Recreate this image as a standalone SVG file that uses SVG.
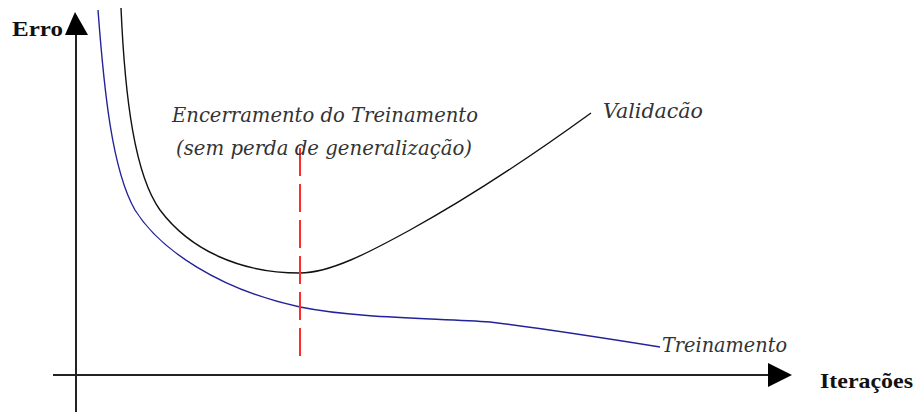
<svg xmlns="http://www.w3.org/2000/svg" width="920" height="412" viewBox="0 0 920 412">
<style>
.axis{stroke:#222;stroke-width:2;fill:none}
.head{fill:#000}
.curve{fill:none;stroke-width:1.4}
.lbl{font-family:"DejaVu Serif","Liberation Serif",serif;font-style:italic;font-size:20px;fill:#333}
.ax{font-family:"Liberation Serif","Times New Roman",serif;font-weight:bold;font-size:22px;fill:#111}
</style>
<rect width="920" height="412" fill="#fff"/>
<g id="axes">
<line class="axis" x1="76" y1="34" x2="76" y2="412"/>
<polygon class="head" points="75,12 65,35 88,35"/>
<line class="axis" x1="53" y1="375" x2="770" y2="375"/>
<polygon class="head" points="792,375 768,363 768,387"/>
<text id="y-label" class="ax" x="12" y="36" textLength="51" lengthAdjust="spacingAndGlyphs">Erro</text>
<text id="x-label" class="ax" x="820" y="388" textLength="93" lengthAdjust="spacingAndGlyphs">Iterações</text>
</g>
<g id="curves">
<path id="validacao" class="curve" stroke="#111" d="M121,8 C125,100 135,175 160,210 C190,250 240,273 300,273 C330,273 370,252 410,230 C470,197 540,150 591,113"/>
<path id="treinamento" class="curve" stroke="#22229a" d="M98,10 C104,90 112,170 135,210 C160,250 220,290 300,307 C360,319 440,318 490,322 C540,328 610,339 660,347"/>
<line id="stop" x1="300" y1="148" x2="300" y2="356" stroke="#ff2a2a" stroke-width="2" stroke-dasharray="28 8"/>
</g>
<g id="labels">
<text class="lbl" x="172" y="122" textLength="306" lengthAdjust="spacingAndGlyphs">Encerramento do Treinamento</text>
<text class="lbl" x="176" y="155" textLength="296" lengthAdjust="spacingAndGlyphs">(sem perda de generalização)</text>
<text class="lbl" x="603" y="118" textLength="100" lengthAdjust="spacingAndGlyphs">Validacão</text>
<text class="lbl" x="662" y="352" textLength="125" lengthAdjust="spacingAndGlyphs">Treinamento</text>
</g>
</svg>
